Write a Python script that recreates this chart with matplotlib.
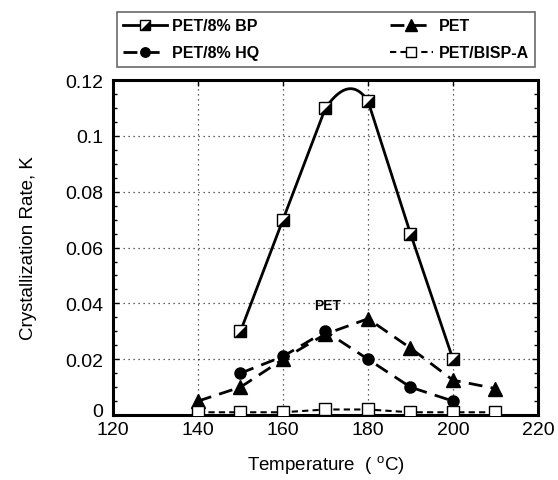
import numpy as np
import matplotlib
matplotlib.use("Agg")
import matplotlib.pyplot as plt
import matplotlib.transforms as mtransforms
from matplotlib.legend_handler import HandlerTuple

plt.rcParams["font.family"] = ["Liberation Sans", "DejaVu Sans"]
plt.rcParams["mathtext.fontset"] = "custom"
plt.rcParams["mathtext.rm"] = "Liberation Sans"

# Crystallization rate K vs temperature (°C)
temp_bp = [150, 160, 170, 180, 190, 200]
rate_bp = [0.030, 0.070, 0.110, 0.1125, 0.065, 0.020]

temp_pet = [140, 150, 160, 170, 180, 190, 200, 210]
rate_pet = [0.005, 0.010, 0.020, 0.029, 0.0345, 0.024, 0.0125, 0.0095]

temp_hq = [150, 160, 170, 180, 190, 200]
rate_hq = [0.015, 0.021, 0.030, 0.020, 0.010, 0.005]

temp_bisp = [140, 150, 160, 170, 180, 190, 200, 210]
rate_bisp = [0.001, 0.001, 0.001, 0.002, 0.002, 0.001, 0.001, 0.001]


def rounded_peak(x, y, n=40):
    # straight segments, with a Hermite curve over the segment next to the maximum
    x = np.asarray(x, float); y = np.asarray(y, float)
    i = int(np.argmax(y))
    j = i - 1 if (i > 0 and (i == len(y)-1 or y[i-1] > y[i+1])) else i
    m = [(y[k+1]-y[k-1])/(x[k+1]-x[k-1]) if 0 < k < len(x)-1 else 0.0 for k in (j, j+1)]
    h = x[j+1] - x[j]
    t = np.linspace(0, 1, n)
    h00 = 2*t**3 - 3*t**2 + 1; h10 = t**3 - 2*t**2 + t
    h01 = -2*t**3 + 3*t**2;    h11 = t**3 - t**2
    cy = h00*y[j] + h10*h*m[0] + h01*y[j+1] + h11*h*m[1]
    cx = x[j] + t*h
    xs = np.concatenate([x[:j], cx, x[j+2:]])
    ys = np.concatenate([y[:j], cy, y[j+2:]])
    return xs, ys


fig = plt.figure(figsize=(5.58, 4.81), dpi=100)
ax = fig.add_axes([0.2025, 0.135, 0.7616, 0.6965])

half_tri = [(-1, -1), (1, -1), (1, 1)]

sx, sy = rounded_peak(temp_bp, rate_bp)
bp_curve, = ax.plot(sx, sy, color="black", lw=2, zorder=3)
bp_sq, = ax.plot(temp_bp, rate_bp, ls="none", marker="s", ms=9, mfc="white",
                 mec="black", mew=1, zorder=4)
bp_tri, = ax.plot(temp_bp, rate_bp, ls="none", marker=half_tri, ms=9,
                  mfc="black", mec="black", mew=0.5, zorder=5)

pet_line, = ax.plot(temp_pet, rate_pet, color="black", lw=2, ls=(0, (5, 3)),
                    marker="^", ms=10, mfc="black", mec="black", zorder=4)
hq_line, = ax.plot(temp_hq, rate_hq, color="black", lw=2, ls=(0, (5, 3)),
                   marker="o", ms=8, mfc="black", mec="black", zorder=4)
bisp_line, = ax.plot(temp_bisp, rate_bisp, color="black", lw=1.5, ls=(0, (3, 2)),
                     marker="s", ms=8, mfc="white", mec="black", mew=1, zorder=4)

ax.text(170.6, 0.0396, "PET", fontsize=10, fontweight="bold", ha="center", va="center")

ax.set_xlim(120, 220)
ax.set_ylim(0, 0.12)
ax.set_xticks(np.arange(120, 221, 20))
ax.set_yticks(np.arange(0, 0.121, 0.02))
ax.set_yticklabels(["0", "0.02", "0.04", "0.06", "0.08", "0.1", "0.12"])
ax.set_yticks(np.arange(0, 0.121, 0.005), minor=True)
ax.tick_params(which="both", direction="in", right=True, top=True, labelsize=14)
ax.tick_params(which="major", length=4, width=1)
ax.tick_params(which="minor", length=3, width=1)
ax.tick_params(axis="x", pad=4)
ax.tick_params(axis="y", pad=7)
ax.grid(True, which="major", ls=(0, (1, 3)), color="black", lw=0.9, alpha=0.8)
for s in ax.spines.values():
    s.set_linewidth(2.2)

# lift the "0" label a little so it clears the "120" below it
zero_lbl = ax.get_yticklabels()[0]
zero_lbl.set_transform(zero_lbl.get_transform() +
                       mtransforms.ScaledTranslation(0, 4/72, fig.dpi_scale_trans))

ax.set_xlabel("Temperature  ( $^{\\rm o}$C)", fontsize=13.5, labelpad=11)
ax.set_ylabel("Crystallization Rate, K", fontsize=13.5, labelpad=20)

leg = fig.legend([(bp_curve, bp_sq, bp_tri), hq_line, pet_line, bisp_line],
                 ["PET/8% BP", "PET/8% HQ", "PET", "PET/BISP-A"],
                 handler_map={tuple: HandlerTuple(ndivide=1, pad=0)},
                 ncol=2, loc="upper left", bbox_to_anchor=(0.2097, 0.846, 0.749, 0.127),
                 mode="expand", borderaxespad=0, frameon=True, fancybox=False,
                 edgecolor="#444444", prop={"weight": "bold", "size": 11.5},
                 handlelength=2.7, handletextpad=0.35, borderpad=0.4,
                 labelspacing=0.75, markerscale=0.85)
leg.get_frame().set_linewidth(1.2)
leg.set_zorder(10)

fig.savefig("out.png", dpi=100, facecolor="white")
